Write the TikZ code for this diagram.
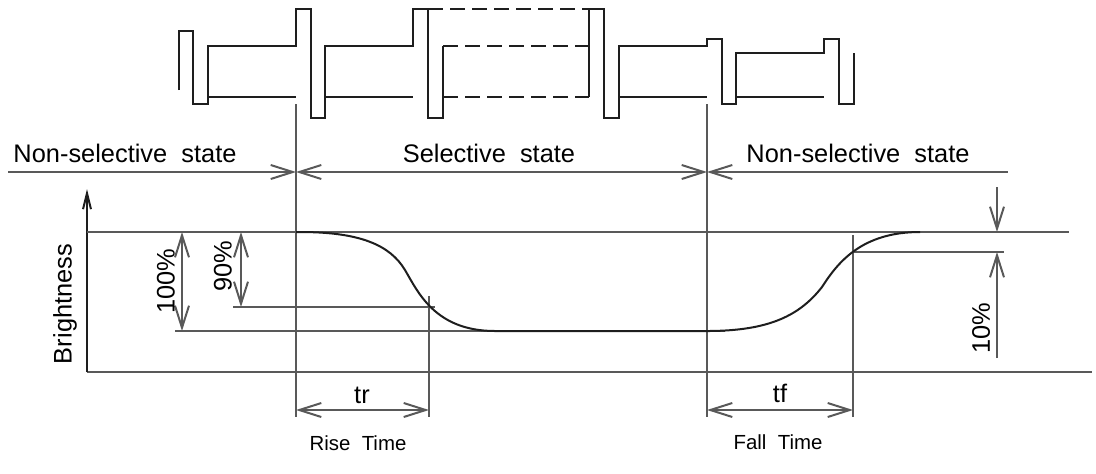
\documentclass[tikz,border=0pt]{standalone}
\usepackage{fontspec}
\setmainfont{Liberation Sans}
\usetikzlibrary{arrows.meta}
\definecolor{dimgray}{HTML}{595959}
\definecolor{inkblack}{HTML}{1E1E1E}

\begin{document}
\begin{tikzpicture}
[x=0.5pt,y=-0.5pt,line width=1pt,%
  >={Straight Barb[length=11pt,width=7pt]},%
  dim/.style={draw=dimgray},%
  wave/.style={draw=inkblack},%
  every node/.style={inner sep=0pt,text=black},%
  lbl/.style={font=\fontsize{12.7}{15}\selectfont},%
  sublbl/.style={font=\fontsize{10.2}{12}\selectfont}]
\useasboundingbox (0,0) rectangle (1096,473);
\draw[wave] (179,90) |- (193,31) |- (208,104) |- (296,46) |- (311,9) |- (325,118)
  |- (413,46) |- (428,9) |- (443,118) -- (443,46);
\draw[wave,dash pattern=on 7.5pt off 3.5pt] (443,46) -- (589,46) (428,9) -- (589,9) (443,97) -- (589,97);
\draw[wave] (589,97) |- (604,9) |- (619,118) |- (707,46) |- (722,39) |- (736,104)
  |- (824,53) |- (839,39) |- (854,104) -- (854,53);
\draw[wave] (208,97) -- (296,97) (325,97) -- (413,97) (619,97) -- (707,97) (736,97) -- (824,97);
\coordinate (ton) at (296,172);
\coordinate (toff) at (707,172);
\draw[dim,->] (8,172) -- (ton);
\draw[dim,<->] (ton) -- (toff);
\draw[dim,<-] (toff) -- (1008,172);
\draw[dim] (296,104) -- (296,417) (707,104) -- (707,417) (429,296) -- (429,417) (853,235) -- (853,417);
\draw[dim] (87,372) -- (1092,372);
\draw[inkblack,-{Straight Barb[length=8pt,width=4pt]}] (87,372) -- (87,189);
\draw[dim] (87,232) -- (1069,232) (175,331) -- (725,331);
\draw[dim] (233,307) -- (435,307) (853,252) -- (1004,252);
\draw[inkblack] (296,232) -- (300,232) .. controls (360,232) and (390,245) .. (405,270)
  .. controls (418,292) and (435,331) .. (495,331) -- (707,331)
  .. controls (770,331) and (800,315) .. (822,287)
  .. controls (838,262) and (862,232) .. (920,232);
\draw[dim,<->] (182,232) -- (182,331);
\draw[dim,<->] (241,232) -- (241,307);
\draw[dim,->] (997,187) -- (997,232);
\draw[dim,->] (997,358) -- (997,252);
\draw[dim,<->] (296,410) -- (429,410);
\draw[dim,<->] (707,410) -- (853,410);
\node[lbl] (nsleft) at (125,153) {Non-selective\ \ state};
\node[lbl] (sel) at (489,153) {Selective\ \ state};
\node[lbl] (nsright) at (858,153) {Non-selective\ \ state};
\node[lbl,rotate=90] (bright) at (65,304) {Brightness};
\node[lbl,rotate=90] (full) at (166,281) {100\%};
\node[lbl,rotate=90] (ninety) at (223,266) {90\%};
\node[lbl,rotate=90] (ten) at (981,328) {10\%};
\node[lbl] (tr) at (362,395) {tr};
\node[lbl] (tf) at (780,393) {tf};
\node[sublbl] (rise) at (358,443) {Rise\ \ Time};
\node[sublbl] (fall) at (778,442) {Fall\ \ Time};
\end{tikzpicture}
\end{document}
